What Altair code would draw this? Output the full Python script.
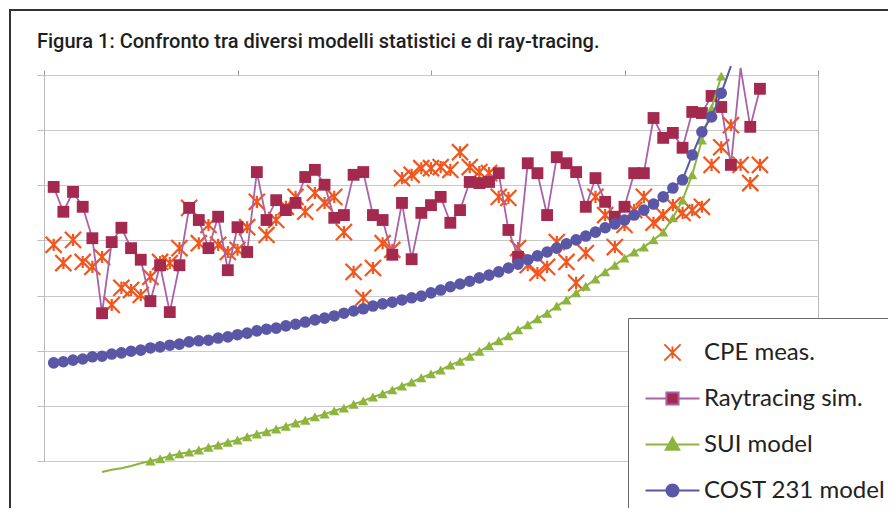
import altair as alt
import pandas as pd

# ---------------- data ----------------
idx = list(range(1, 75))

cpe = [39.2, 35.9, 40.1, 36.1, 35.2, 37.0, 28.3, 31.4, 31.0, 30.1,
       33.4, 36.1, 35.9, 38.6, 45.9, 39.5, 42.8, 39.2, 37.9, 38.3,
       42.4, 47.0, 41.0, 43.7, 46.1, 47.9, 45.2, 48.6, 46.8, 47.9,
       41.5, 34.3, 29.6, 35.0, 39.5, 38.3, 51.3, 51.9, 53.1, 53.1,
       53.3, 52.8, 56.0, 53.3, 52.4, 52.2, 47.9, 47.7, 38.6, 35.5,
       34.1, 35.2, 39.7, 36.1, 32.3, 37.7, 47.9, 44.6, 38.8, 42.8,
       45.5, 47.9, 43.2, 44.6, 46.4, 45.0, 45.5, 46.1, 53.7, 56.9,
       60.9, 53.7, 50.4, 53.7]

ray = [49.7, 45.2, 48.8, 46.1, 40.4, 26.8, 39.7, 42.3, 38.6, 36.5,
       29.0, 35.5, 27.0, 35.5, 45.9, 43.7, 38.6, 44.3, 34.6, 42.4,
       37.9, 52.4, 43.7, 47.3, 45.5, 46.8, 51.5, 52.8, 50.1, 44.1,
       44.6, 51.9, 52.4, 44.6, 43.7, 37.4, 46.8, 36.6, 45.0, 46.4,
       47.9, 43.2, 45.5, 50.6, 50.4, 50.6, 52.2, 41.9, 37.0, 54.0,
       52.2, 44.6, 55.1, 54.0, 52.4, 46.1, 51.3, 47.0, 44.3, 46.1,
       52.2, 52.2, 62.2, 58.6, 59.5, 56.8, 63.3, 63.1, 66.2, 64.2,
       53.7, 71.3, 60.6, 67.5]

sui = [None, None, None, None, None, -2.0, -1.6, -1.3, -0.9, -0.4,
       0.0, 0.4, 0.9, 1.3, 1.6, 2.0, 2.5, 2.9, 3.4, 3.8,
       4.4, 4.9, 5.3, 5.8, 6.3, 6.9, 7.4, 8.0, 8.5, 9.1,
       9.6, 10.3, 10.9, 11.6, 12.2, 12.9, 13.6, 14.3, 15.1, 15.8,
       16.5, 17.4, 18.1, 19.0, 19.9, 20.9, 21.8, 22.7, 23.8, 24.7,
       25.8, 26.8, 28.1, 29.2, 30.5, 31.7, 33.0, 34.3, 35.5, 36.8,
       37.9, 38.8, 40.1, 41.5, 44.1, 47.3, 51.9, 58.2, 64.0, 69.8,
       None, None, None, None]

cost = [17.8, 18.0, 18.3, 18.5, 18.9, 19.0, 19.4, 19.6, 19.9, 20.1,
        20.5, 20.7, 21.0, 21.2, 21.6, 21.8, 21.9, 22.3, 22.5, 22.9,
        23.2, 23.6, 23.9, 24.1, 24.5, 24.8, 25.2, 25.6, 25.9, 26.3,
        26.8, 27.2, 27.6, 28.1, 28.5, 28.8, 29.2, 29.6, 29.9, 30.5,
        31.0, 31.6, 32.1, 32.6, 33.2, 33.7, 34.3, 35.0, 35.7, 36.5,
        37.2, 37.9, 38.6, 39.4, 40.1, 40.8, 41.5, 42.3, 43.0, 43.7,
        44.6, 45.5, 46.6, 47.9, 49.5, 51.0, 55.5, 59.7, 62.4, 66.7,
        71.6, None, None, None]

series_names = ["CPE meas.", "Raytracing sim.", "SUI model", "COST 231 model"]
x_ticks = [0, 20, 40, 60, 80]
y_ticks = [0, 10, 20, 30, 40, 50, 60, 70]

title_text = "Figura 1: Confronto tra diversi modelli statistici e di ray-tracing."

# ---------------- build table ----------------
rows = []
for name, vals in zip(series_names, [cpe, ray, sui, cost]):
    for i, v in zip(idx, vals):
        if v is not None:
            rows.append({"i": i, "series": name, "v": v})
df = pd.DataFrame(rows)

C_CPE = "#f0561e"
C_RAY_M = "#a3294f"
C_RAY_L = "#a862a8"
C_SUI = "#8db53e"
C_COST = "#5a57a6"

X = alt.X("i:Q", scale=alt.Scale(domain=[0, 80], nice=False),
          axis=alt.Axis(orient="top", labels=False, ticks=True, tickSize=5,
                        tickColor="#9a9a9a", domain=False, grid=False,
                        values=x_ticks, title=None))
Y = alt.Y("v:Q", scale=alt.Scale(domain=[0, 70], nice=False, zero=False),
          axis=alt.Axis(orient="left", labels=False, ticks=True, tickSize=7,
                        tickColor="#bdbdbd", domain=False, grid=True,
                        gridColor="#c9c9c9", values=y_ticks, title=None))

base = alt.Chart(df)
in_range = "datum.v >= -0.3 && datum.v <= 70.3"

star_path = "M-1,-1L1,1M-1,1L1,-1M0,-0.75L0,0.75"

cpe_pts = base.transform_filter(alt.datum.series == "CPE meas.").transform_filter(in_range).mark_point(
    shape=star_path, filled=False, stroke=C_CPE, strokeWidth=2.2, size=260, opacity=1, clip=False
).encode(x=X, y=Y)

ray_line = base.transform_filter(alt.datum.series == "Raytracing sim.").mark_line(
    color=C_RAY_L, strokeWidth=1.8, clip=False).encode(x=X, y=Y, order="i:Q")
ray_pts = base.transform_filter(alt.datum.series == "Raytracing sim.").transform_filter(in_range).mark_point(
    shape="square", filled=True, color=C_RAY_M, size=140, opacity=1, clip=False).encode(x=X, y=Y)

sui_line = base.transform_filter(alt.datum.series == "SUI model").mark_line(
    color=C_SUI, strokeWidth=2, clip=False).encode(x=X, y=Y, order="i:Q")
sui_pts = base.transform_filter(alt.datum.series == "SUI model").transform_filter(in_range).mark_point(
    shape="triangle-up", filled=True, color=C_SUI, size=105, opacity=1, clip=False).encode(x=X, y=Y)

cost_line = base.transform_filter(alt.datum.series == "COST 231 model").mark_line(
    color=C_COST, strokeWidth=2, clip=False).encode(x=X, y=Y, order="i:Q")
cost_pts = base.transform_filter(alt.datum.series == "COST 231 model").transform_filter(in_range).mark_point(
    shape="circle", filled=True, color=C_COST, size=135, opacity=1, clip=False).encode(x=X, y=Y)

# outer frame of the figure
frame = alt.Chart(pd.DataFrame({"a": [0]})).mark_rect(
    fill="transparent", stroke="#333333", strokeWidth=2, clip=False
).encode(x=alt.value(-34), x2=alt.value(900), y=alt.value(-65), y2=alt.value(500))

# legend (symbols combine line + marker like the original)
leg_shapes = [
    "M0.14,-0.6L1.34,0.6M0.14,0.6L1.34,-0.6M0.74,-0.45L0.74,0.45",
    "M-1.26,0L0.29,0M1.19,0L2.74,0M0.29,-0.45L1.19,-0.45L1.19,0.45L0.29,0.45Z",
    "M-1.26,0L0.44,0M1.04,0L2.74,0M0.74,-0.5L1.24,0.38L0.24,0.38Z",
    "M-1.26,0L0.29,0M1.19,0L2.74,0M0.29,0A0.45,0.45,0,1,1,1.19,0A0.45,0.45,0,1,1,0.29,0Z",
]
leg = alt.Legend(orient="none", legendX=584, legendY=243, title=None,
                 fillColor="white", strokeColor="#6a6a6a", padding=20,
                 labelFont="Lato", labelFontSize=24, labelColor="#222222",
                 labelOffset=27, labelLimit=400, rowPadding=19, symbolSize=729,
                 symbolStrokeWidth=2, symbolOpacity=1)
legend_layer = base.transform_filter("false").mark_point(filled=True, strokeWidth=2).encode(
    x=X, y=Y,
    shape=alt.Shape("series:N", scale=alt.Scale(domain=series_names, range=leg_shapes), legend=leg),
    fill=alt.Fill("series:N", scale=alt.Scale(domain=series_names,
                  range=["transparent", C_RAY_M, C_SUI, C_COST]), legend=leg),
    stroke=alt.Stroke("series:N", scale=alt.Scale(domain=series_names,
                      range=[C_CPE, C_RAY_L, C_SUI, C_COST]), legend=leg),
)

chart = alt.layer(
    frame, cpe_pts, ray_line, ray_pts, sui_line, sui_pts, cost_line, cost_pts, legend_layer
).resolve_scale(shape="independent", fill="independent", stroke="independent").properties(
    width=774, height=386,
    autosize=alt.AutoSizeParams(type="none"),
    padding={"left": 36, "top": 67, "right": 70, "bottom": 47},
    title=alt.TitleParams(title_text, anchor="start", font="Roboto", fontSize=20,
                          fontWeight=500, color="#1e1e1e", dx=28, offset=0, dy=43),
    background="white",
).configure_view(stroke="#b8b8b8", strokeWidth=1)

chart.save("out.html", embed_options={"renderer": "svg", "actions": False})
